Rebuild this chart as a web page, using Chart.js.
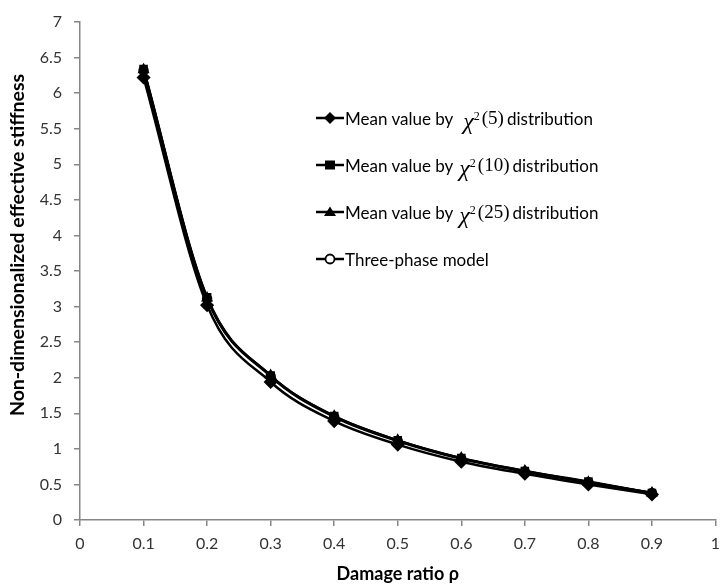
<!DOCTYPE html>
<html>
<head>
<meta charset="utf-8">
<script src="https://cdn.jsdelivr.net/npm/chart.js@4.4.1/dist/chart.umd.min.js"></script>
<style>
  html, body { margin: 0; padding: 0; background: #fff; }
  #wrap { position: relative; width: 723px; height: 586px; }
  #legend { position: absolute; left: 316px; top: 104px; font-family: Lato, sans-serif; font-size: 17px; color: #000; }
  #legend .row { display: flex; align-items: center; height: 28px; margin-bottom: 19px; white-space: nowrap; }
  #legend svg { margin-right: 1px; }
  #legend .chi { font-family: "Liberation Serif", serif; font-style: italic; font-size: 24px; margin: 0 2px 0 6px; line-height: 20px; }
  #legend .chi sup { font-size: 12px; font-style: normal; }
  #legend .par { font-family: "Liberation Serif", serif; font-size: 19px; margin-right: 3px; }
</style>
</head>
<body>
<div id="wrap">
  <canvas id="stiffChart" width="723" height="586"></canvas>
  <div id="legend"></div>
</div>
<script>
// damage ratio values
const ratios = [0.1, 0.2, 0.3, 0.4, 0.5, 0.6, 0.7, 0.8, 0.9];

// series
const chi5 = [6.22, 3.02, 1.94, 1.39, 1.06, 0.82, 0.65, 0.50, 0.36];
const chi10 = [6.34, 3.13, 2.03, 1.46, 1.12, 0.87, 0.69, 0.54, 0.38];
const chi25 = [6.33, 3.12, 2.03, 1.46, 1.12, 0.87, 0.69, 0.53, 0.38];
const threePhase = [6.32, 3.11, 2.02, 1.45, 1.11, 0.86, 0.68, 0.53, 0.38];

const seriesNames = ['χ2(5)', 'χ2(10)', 'χ2(25)', 'Three-phase model'];
const yTitle = 'Non-dimensionalized effective stiffness';

const toPoints = vals => vals.map((v, i) => ({ x: ratios[i], y: v }));

const axisGrey = '#868686';
const tickColor = '#333';

function makeSet(label, vals, style, radius, fill) {
  return {
    label: label,
    data: toPoints(vals),
    borderColor: '#000',
    borderWidth: 2.5,
    pointStyle: style,
    pointRadius: radius,
    pointBackgroundColor: fill,
    pointBorderColor: '#000',
    pointBorderWidth: 1.5,
    cubicInterpolationMode: 'monotone',
    fill: false
  };
}

// y title sits a bit above the middle of the axis in the original, so draw it by hand
const yTitlePlugin = {
  id: 'yTitle',
  afterDraw(chart) {
    const ctx = chart.ctx;
    ctx.save();
    ctx.translate(18, 245);
    ctx.rotate(-Math.PI / 2);
    ctx.font = 'bold 19.5px Lato';
    ctx.fillStyle = '#000';
    ctx.textAlign = 'center';
    ctx.textBaseline = 'middle';
    ctx.fillText(yTitle, 0, 0);
    ctx.restore();
  }
};

const chart = new Chart(document.getElementById('stiffChart').getContext('2d'), {
  type: 'line',
  data: {
    datasets: [
      makeSet(seriesNames[0], chi5, 'rectRot', 6, '#000'),
      makeSet(seriesNames[1], chi10, 'rect', 5, '#000'),
      makeSet(seriesNames[2], chi25, 'triangle', 5.5, '#000'),
      makeSet(seriesNames[3], threePhase, 'circle', 4.5, '#fff')
    ]
  },
  plugins: [yTitlePlugin],
  options: {
    responsive: false,
    animation: false,
    layout: { padding: { top: 22, right: 0, left: 0, bottom: 0 } },
    plugins: {
      legend: { display: false },
      tooltip: { enabled: false }
    },
    scales: {
      x: {
        type: 'linear',
        min: 0,
        max: 1,
        afterFit: s => { s.height = 66; s.paddingRight = 3; s.paddingLeft = 0; },
        border: { color: axisGrey, width: 1.5 },
        grid: { drawOnChartArea: false, color: axisGrey, tickLength: 6, lineWidth: 1.5 },
        ticks: {
          stepSize: 0.1,
          padding: 8,
          color: tickColor,
          font: { family: 'Lato', size: 16 },
          maxRotation: 0,
          callback: v => (v === 0 || v === 1) ? String(v) : v.toFixed(1)
        },
        title: {
          display: true,
          text: 'Damage ratio ρ',
          color: '#000',
          font: { family: 'Lato', size: 18, weight: 'bold' },
          padding: { top: 0, bottom: 1 }
        }
      },
      y: {
        min: 0,
        max: 7,
        afterFit: s => { s.width = 80; },
        border: { color: axisGrey, width: 1.5 },
        grid: { drawOnChartArea: false, color: axisGrey, tickLength: 6, lineWidth: 1.5 },
        ticks: {
          stepSize: 0.5,
          padding: 12,
          color: tickColor,
          font: { family: 'Lato', size: 16 },
          callback: v => String(v)
        },
        title: { display: false, text: yTitle }
      }
    }
  }
});

// html legend so the chi-square label can use italic/superscript
const markers = {
  rectRot: '<polygon points="14,2 20,8 14,14 8,8" fill="#000"/>',
  rect: '<rect x="9" y="3.5" width="10" height="9" fill="#000"/>',
  triangle: '<polygon points="14,2.5 20,12 8,12" fill="#000"/>',
  circle: '<circle cx="14" cy="8" r="4.5" fill="#fff" stroke="#000" stroke-width="1.8"/>'
};
const legendEl = document.getElementById('legend');
chart.data.datasets.forEach((ds, i) => {
  const row = document.createElement('div');
  row.className = 'row';
  const svg = '<svg width="28" height="16" viewBox="0 0 28 16"><line x1="0" y1="8" x2="28" y2="8" stroke="#000" stroke-width="2.5"/>' + markers[ds.pointStyle] + '</svg>';
  let text;
  if (i < 3) {
    const df = ds.label.match(/\((\d+)\)/)[1];
    const gap = i === 0 ? '&nbsp;' : '';
    text = '<span>Mean value by' + gap + '</span><span class="chi">χ<sup>2</sup></span><span class="par">(' + df + ')</span><span>distribution</span>';
  } else {
    text = '<span>' + ds.label + '</span>';
  }
  row.innerHTML = svg + text;
  legendEl.appendChild(row);
});
</script>
</body>
</html>
